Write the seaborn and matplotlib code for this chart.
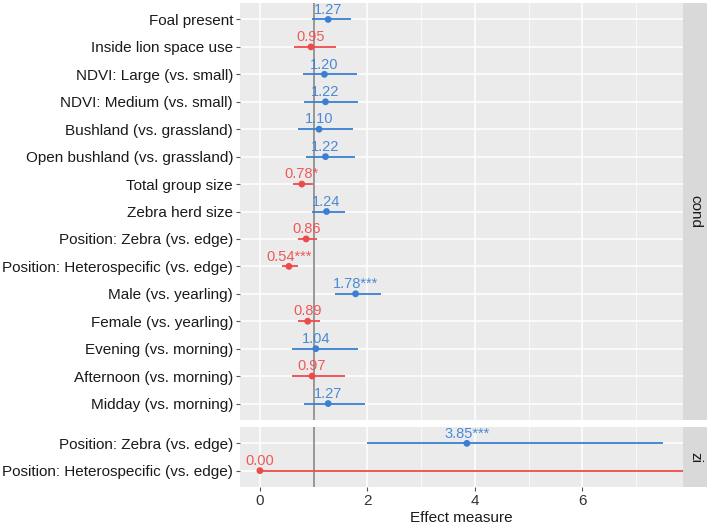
import numpy as np
import matplotlib.pyplot as plt
import seaborn as sns

sns.set_theme(style="darkgrid", rc={"axes.facecolor": "#EBEBEB", "grid.color": "white"})
plt.rcParams['font.family'] = ['Liberation Sans', 'DejaVu Sans']

# conditional model
cond_terms = ["Foal present", "Inside lion space use", "NDVI: Large (vs. small)",
              "NDVI: Medium (vs. small)", "Bushland (vs. grassland)",
              "Open bushland (vs. grassland)", "Total group size", "Zebra herd size",
              "Position: Zebra (vs. edge)", "Position: Heterospecific (vs. edge)",
              "Male (vs. yearling)", "Female (vs. yearling)", "Evening (vs. morning)",
              "Afternoon (vs. morning)", "Midday (vs. morning)"]
cond_est = [1.27, 0.95, 1.20, 1.22, 1.10, 1.22, 0.78, 1.24, 0.86, 0.54, 1.78, 0.89, 1.04, 0.97, 1.27]
cond_lo = [0.96, 0.64, 0.80, 0.82, 0.71, 0.85, 0.62, 0.97, 0.71, 0.42, 1.40, 0.71, 0.59, 0.59, 0.82]
cond_hi = [1.69, 1.41, 1.80, 1.82, 1.73, 1.76, 0.99, 1.58, 1.07, 0.71, 2.25, 1.12, 1.83, 1.59, 1.95]
cond_stars = ["", "", "", "", "", "", "*", "", "", "***", "***", "", "", "", ""]

# zero-inflation model
zi_terms = ["Position: Zebra (vs. edge)", "Position: Heterospecific (vs. edge)"]
zi_est = [3.85, 0.00]
zi_lo = [1.99, 0.00]
zi_hi = [7.49, 9.00]
zi_stars = ["***", ""]

blue = "#3A7FD2"
red = "#EE4A4A"

fig = plt.figure(figsize=(7.09, 5.24), dpi=100)
L, R = 240 / 709, 683 / 709
top_ax = fig.add_axes([L, 1 - 420 / 524, R - L, 417 / 524])
bot_ax = fig.add_axes([L, 1 - 487 / 524, R - L, 60 / 524], sharex=top_ax)


def draw(ax, terms, est, lo, hi, stars):
    ypos = np.arange(len(terms))
    cols = [blue if e > 1 else red for e in est]
    ax.axvline(1, color="#7F7F7F", lw=1.1, zorder=2)
    ax.hlines(ypos, lo, hi, colors=cols, lw=1.3, zorder=3)
    ax.scatter(est, ypos, c=cols, s=24, zorder=4, linewidths=0)
    for y, e, s, c in zip(ypos, est, stars, cols):
        ax.text(e, y - 0.1, f"{e:.2f}{s}", color=c, ha="center", va="bottom",
                fontsize=10.5, alpha=0.9, zorder=5)
    ax.set_yticks(ypos)
    ax.set_yticklabels(terms, fontsize=11, color="#1A1A1A")
    ax.set_ylim(len(terms) - 0.4, -0.6)
    ax.tick_params(axis="y", length=3, color="#555555", width=0.8, pad=2, left=True)
    for sp in ax.spines.values():
        sp.set_visible(False)


draw(top_ax, cond_terms, cond_est, cond_lo, cond_hi, cond_stars)
draw(bot_ax, zi_terms, zi_est, zi_lo, zi_hi, zi_stars)

top_ax.set_xlim(-0.37, 7.87)
top_ax.set_xticks([0, 2, 4, 6])
top_ax.set_xticks([1, 3, 5, 7], minor=True)
for ax in (top_ax, bot_ax):
    ax.grid(True, which="major", color="white", lw=1.1)
    ax.grid(True, which="minor", axis="x", color="white", lw=0.5)
plt.setp(top_ax.get_xticklabels(), visible=False)
top_ax.tick_params(axis="x", length=0)
bot_ax.tick_params(axis="x", length=3, color="#555555", width=0.8, labelsize=11,
                   labelcolor="#333333", pad=2, bottom=True)
bot_ax.set_xlabel("Effect measure", fontsize=11, color="#1A1A1A", labelpad=2)

# facet strips
for ax, name in ((top_ax, "cond"), (bot_ax, "zi")):
    pos = ax.get_position()
    strip = fig.add_axes([pos.x1, pos.y0, 24 / 709, pos.height])
    strip.set_facecolor("#D9D9D9")
    strip.set_xticks([])
    strip.set_yticks([])
    strip.grid(False)
    for sp in strip.spines.values():
        sp.set_visible(False)
    strip.text(0.5, 0.5, name, rotation=-90, ha="center", va="center",
               fontsize=11, color="#1A1A1A", transform=strip.transAxes)

fig.savefig("out.png", dpi=100, facecolor="white")
